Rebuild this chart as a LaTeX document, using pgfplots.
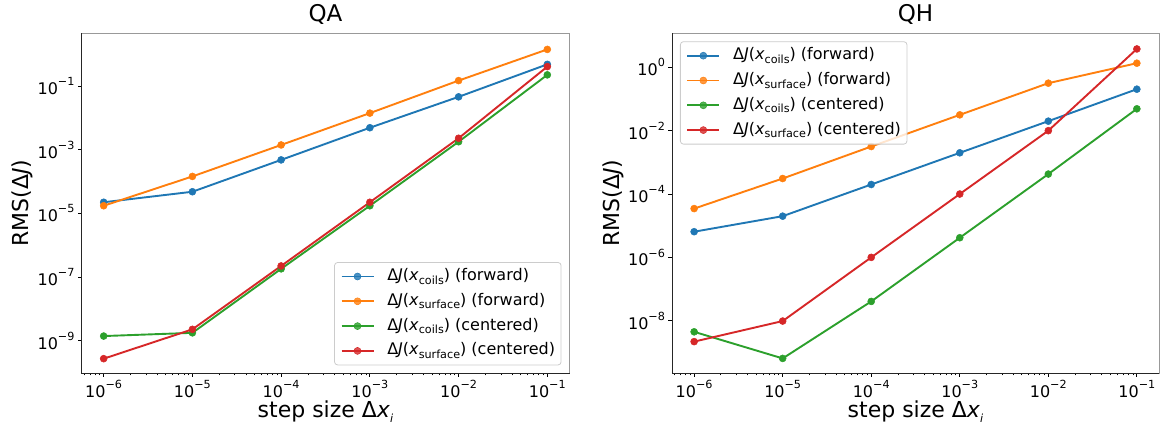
\documentclass[border=0pt]{standalone}
\usepackage{fontspec}
\setmainfont{DejaVu Sans}
\usepackage{pgfplots}
\pgfplotsset{compat=1.18}
\definecolor{tabblue}{HTML}{1F77B4}
\definecolor{taborange}{HTML}{FF7F0E}
\definecolor{tabgreen}{HTML}{2CA02C}
\definecolor{tabred}{HTML}{D62728}
\newcommand\sups[1]{\raisebox{0.55em}{\fontsize{11.2}{11.2}\selectfont #1}}
\newcommand\subs[1]{\raisebox{-0.22em}{\fontsize{11.2}{11.2}\selectfont #1}}
\newcommand\dJent[2]{Δ\textit{J}(\textit{x}\subs{#1}) (#2)}
\pgfplotsset{legend image code/.code={\draw[mark repeat=2,mark phase=2,#1] plot coordinates {(0pt,0pt) (16pt,0pt) (32pt,0pt)};}}
\tikzset{ser/.style={color=#1, line width=1.9pt, mark=*, mark size=3.5pt, mark options={solid, line width=0.5pt}}}
\pgfplotsset{
    tick align=outside, xtick pos=bottom, ytick pos=left,
    major tick length=3.5pt, minor tick length=2pt,
    tick style={black, line width=0.8pt},
    minor tick style={black, line width=0.6pt},
    axis line style={draw=black!40, line width=0.8pt},
    ticklabel style={font=\fontsize{16}{16}\selectfont},
    title style={font=\fontsize{23}{23}\selectfont, at={(axis description cs:0.5,1.0165)}, anchor=base},
    xlabel style={font=\fontsize{22}{22}\selectfont, at={(axis description cs:0.5,-0.1294)}, anchor=base},
    ylabel style={font=\fontsize{22}{22}\selectfont, at={(axis description cs:-0.1086,0.5)}, anchor=base},
    legend cell align=left,
    legend style={font=\fontsize{16}{16}\selectfont, draw=black!20, line width=0.8pt, rounded corners=3pt,
      fill=white, fill opacity=0.8, text opacity=1, draw opacity=1,
      row sep=8.8pt, inner xsep=6pt, inner ysep=6pt,
      nodes={inner sep=0pt, text height=12pt, text depth=4pt},
      /tikz/every odd column/.append style={column sep=12.8pt}},
}
\begin{document}
\begin{tikzpicture}
\path[use as bounding box] (0,0) rectangle (1162pt,423pt);
\begin{axis}[name=A, at={(81.5pt,49.7pt)}, anchor=south west,
  scale only axis, width=488pt, height=340pt,
  xmode=log, ymode=log,
  xmin=5.6234e-7, xmax=0.17783,
  xtick={1e-6,1e-5,1e-4,1e-3,1e-2,1e-1},
  xticklabels={10\sups{−6},10\sups{−5},10\sups{−4},10\sups{−3},10\sups{−2},10\sups{−1}},
  minor xtick={6e-7,7e-7,8e-7,9e-7,
      2e-6,3e-6,4e-6,5e-6,6e-6,7e-6,8e-6,9e-6,
      2e-5,3e-5,4e-5,5e-5,6e-5,7e-5,8e-5,9e-5,
      2e-4,3e-4,4e-4,5e-4,6e-4,7e-4,8e-4,9e-4,
      2e-3,3e-3,4e-3,5e-3,6e-3,7e-3,8e-3,9e-3,
      2e-2,3e-2,4e-2,5e-2,6e-2,7e-2,8e-2,9e-2},
  xlabel={step size Δ\textit{x}\subs{\textit{i}}},
  ylabel={RMS(Δ\textit{J})},
  ymin=9.55e-11, ymax=4.52,
  ytick={1e-1,1e-3,1e-5,1e-7,1e-9},
  yticklabels={10\sups{−1},10\sups{−3},10\sups{−5},10\sups{−7},10\sups{−9}},
  title={QA},
  legend style={at={(1,0)}, anchor=south east, xshift=-8pt, yshift=8pt}]
\addplot[ser=tabblue] coordinates {(1e-6,2.24e-5) (1e-5,4.79e-5) (1e-4,4.79e-4) (1e-3,4.90e-3) (1e-2,4.57e-2) (1e-1,0.479)};
\addplot[ser=taborange] coordinates {(1e-6,1.74e-5) (1e-5,1.45e-4) (1e-4,1.41e-3) (1e-3,1.41e-2) (1e-2,0.148) (1e-1,1.41)};
\addplot[ser=tabgreen] coordinates {(1e-6,1.41e-9) (1e-5,1.78e-9) (1e-4,1.82e-7) (1e-3,1.74e-5) (1e-2,1.78e-3) (1e-1,0.224)};
\addplot[ser=tabred] coordinates {(1e-6,2.75e-10) (1e-5,2.29e-9) (1e-4,2.24e-7) (1e-3,2.24e-5) (1e-2,2.29e-3) (1e-1,0.407)};
\legend{\dJent{coils}{forward},\dJent{surface}{forward},\dJent{coils}{centered},\dJent{surface}{centered}}
\end{axis}
\draw[black!85, line width=0.8pt] (A.north west) -- (A.south west) -- (A.south east);
\begin{axis}[name=B, at={(672pt,49.7pt)}, anchor=south west,
  scale only axis, width=487pt, height=340pt,
  xmode=log, ymode=log,
  xmin=5.6234e-7, xmax=0.17783,
  xtick={1e-6,1e-5,1e-4,1e-3,1e-2,1e-1},
  xticklabels={10\sups{−6},10\sups{−5},10\sups{−4},10\sups{−3},10\sups{−2},10\sups{−1}},
  minor xtick={6e-7,7e-7,8e-7,9e-7,
      2e-6,3e-6,4e-6,5e-6,6e-6,7e-6,8e-6,9e-6,
      2e-5,3e-5,4e-5,5e-5,6e-5,7e-5,8e-5,9e-5,
      2e-4,3e-4,4e-4,5e-4,6e-4,7e-4,8e-4,9e-4,
      2e-3,3e-3,4e-3,5e-3,6e-3,7e-3,8e-3,9e-3,
      2e-2,3e-2,4e-2,5e-2,6e-2,7e-2,8e-2,9e-2},
  xlabel={step size Δ\textit{x}\subs{\textit{i}}},
  ylabel={RMS(Δ\textit{J})},
  ymin=2.19e-10, ymax=11.86,
  ytick={1,1e-2,1e-4,1e-6,1e-8},
  yticklabels={10\sups{0},10\sups{−2},10\sups{−4},10\sups{−6},10\sups{−8}},
  title={QH},
  legend style={at={(0,1)}, anchor=north west, xshift=8pt, yshift=-8pt}]
\addplot[ser=tabblue] coordinates {(1e-6,6.46e-6) (1e-5,2.0e-5) (1e-4,2.0e-4) (1e-3,2.0e-3) (1e-2,2.0e-2) (1e-1,0.204)};
\addplot[ser=taborange] coordinates {(1e-6,3.47e-5) (1e-5,3.09e-4) (1e-4,3.16e-3) (1e-3,3.16e-2) (1e-2,0.316) (1e-1,1.35)};
\addplot[ser=tabgreen] coordinates {(1e-6,4.47e-9) (1e-5,6.46e-10) (1e-4,4.07e-8) (1e-3,4.17e-6) (1e-2,4.27e-4) (1e-1,4.90e-2)};
\addplot[ser=tabred] coordinates {(1e-6,2.19e-9) (1e-5,9.77e-9) (1e-4,1.0e-6) (1e-3,1.0e-4) (1e-2,1.0e-2) (1e-1,3.80)};
\legend{\dJent{coils}{forward},\dJent{surface}{forward},\dJent{coils}{centered},\dJent{surface}{centered}}
\end{axis}
\draw[black!85, line width=0.8pt] (B.north west) -- (B.south west) -- (B.south east);
\end{tikzpicture}
\end{document}
